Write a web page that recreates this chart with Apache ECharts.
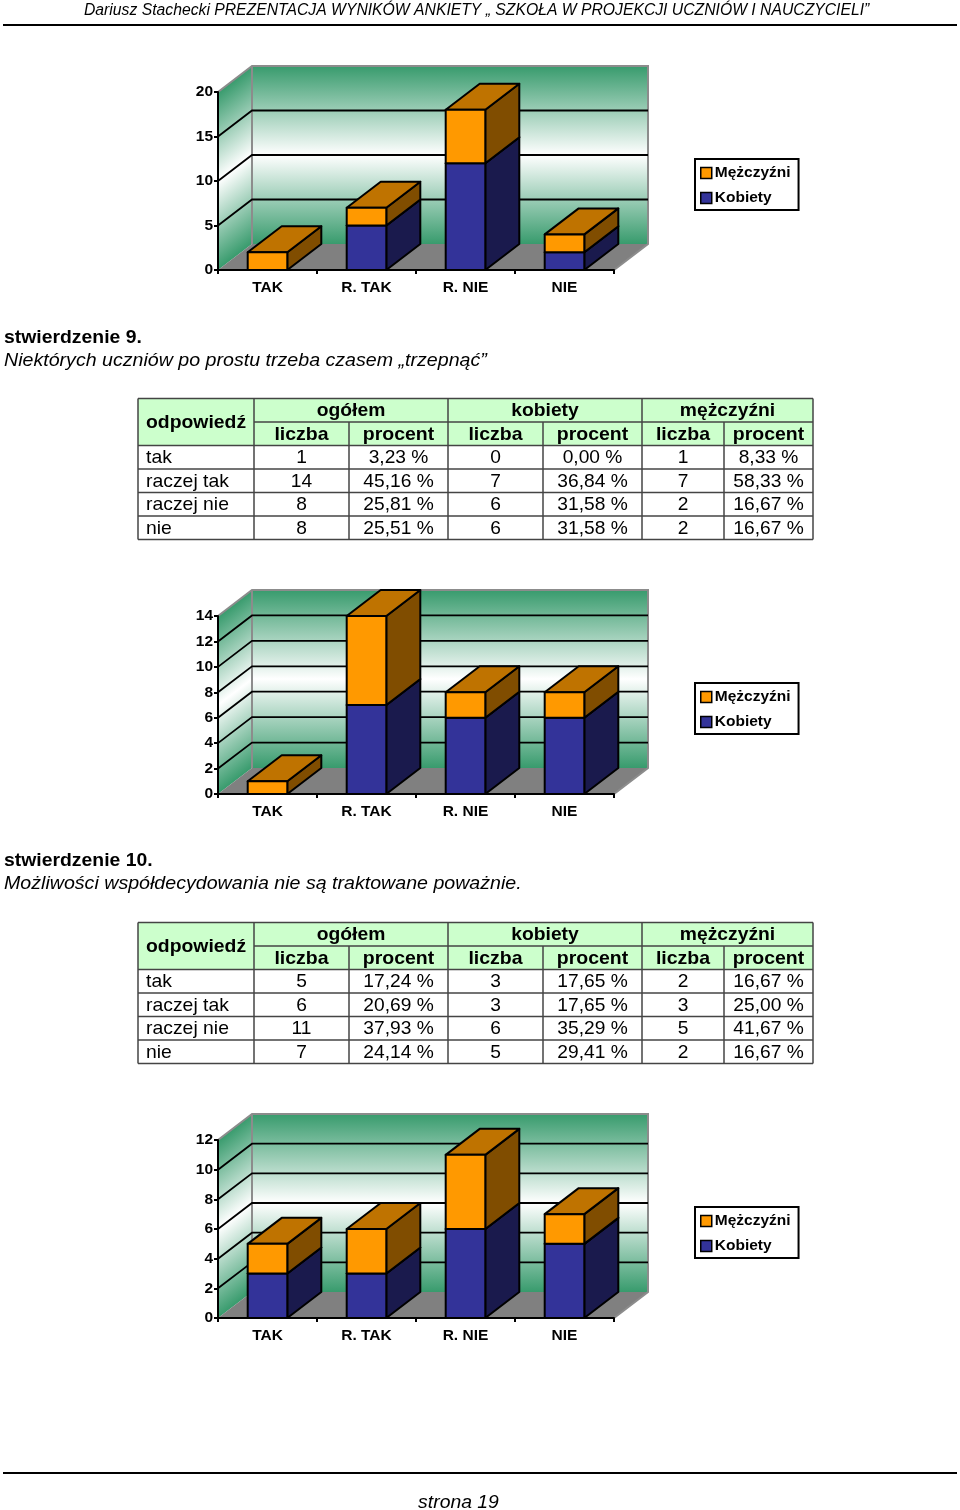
<!DOCTYPE html>
<html><head><meta charset="utf-8">
<style>html,body{margin:0;padding:0;background:#fff}#c{width:960px;height:1510px}</style>
<script src="https://cdn.jsdelivr.net/npm/echarts@6/dist/echarts.min.js"></script>
</head><body><div id="c"></div>
<script>
const categories = ['TAK','R. TAK','R. NIE','NIE'];
const kobiety1 = [0,5,12,2];
const mezczyzni1 = [2,2,6,2];
const kobiety2 = [0,7,6,6];
const mezczyzni2 = [1,7,2,2];
const kobiety3 = [3,3,6,5];
const mezczyzni3 = [2,3,5,2];
const yMaxes = [20,14,12];
const yIntervals = [5,2,2];
const legendNames = ['Mężczyźni','Kobiety'];

const headerText = 'Dariusz Stachecki PREZENTACJA WYNIKÓW ANKIETY „ SZKOŁA W PROJEKCJI UCZNIÓW I NAUCZYCIELI”';
const footerText = 'strona 19';
const title9 = 'stwierdzenie 9.';
const sub9 = 'Niektórych uczniów po prostu trzeba czasem „trzepnąć”';
const title10 = 'stwierdzenie 10.';
const sub10 = 'Możliwości współdecydowania nie są traktowane poważnie.';

const tableGroups = ['ogółem','kobiety','mężczyźni'];
const tableSub = ['liczba','procent','liczba','procent','liczba','procent'];
const rowNames = ['tak','raczej tak','raczej nie','nie'];
const table9 = [
 ['1','3,23 %','0','0,00 %','1','8,33 %'],
 ['14','45,16 %','7','36,84 %','7','58,33 %'],
 ['8','25,81 %','6','31,58 %','2','16,67 %'],
 ['8','25,51 %','6','31,58 %','2','16,67 %']];
const table10 = [
 ['5','17,24 %','3','17,65 %','2','16,67 %'],
 ['6','20,69 %','3','17,65 %','3','25,00 %'],
 ['11','37,93 %','6','35,29 %','5','41,67 %'],
 ['7','24,14 %','5','29,41 %','2','16,67 %']];

const FONT = '"Liberation Sans", Arial, sans-serif';
const DX = 34, DY = 26;
const GRID_TOPS = [92, 616, 1140];
const GRID_H = 178;
const GRID_L = 218, GRID_W = 396;
const WALL_GREEN = '#389b6d';
const C = {
  k:{front:'#333399',side:'#1a1a4d',top:'#28287a'},
  m:{front:'#ff9900',side:'#804d00',top:'#bf7300'}
};
const g = echarts.graphic;

function stops(){return [{offset:0,color:WALL_GREEN},{offset:0.5,color:'#ffffff'},{offset:1,color:WALL_GREEN}];}

function wallsRender(ymax, interval){
  return function(params, api){
    const o = api.coord([0,0]);
    const tl = api.coord([0,ymax]);
    const w = api.size([1,0])[0]*categories.length;
    const x0 = o[0]-api.size([1,0])[0]/2, y0 = o[1], yt = tl[1];
    const x1 = x0+w;
    const kids = [];
    const h = y0-yt;
    const len = Math.hypot(DX,DY);
    const nx = DY/len, ny = DX/len, proj = h*DX/len;
    kids.push({type:'polygon',shape:{points:[[x0,y0],[x0+DX,y0-DY],[x0+DX,yt-DY],[x0,yt]]},
      style:{fill:new g.LinearGradient(x0,yt,x0+nx*proj,yt+ny*proj,stops(),true),stroke:null}});
    kids.push({type:'rect',shape:{x:x0+DX,y:yt-DY,width:w,height:h},
      style:{fill:new g.LinearGradient(0,yt-DY,0,y0-DY,stops(),true),stroke:null}});
    kids.push({type:'polygon',shape:{points:[[x0,y0],[x1,y0],[x1+DX,y0-DY],[x0+DX,y0-DY]]},
      style:{fill:'#808080',stroke:null}});
    kids.push({type:'polyline',shape:{points:[[x0,yt],[x0+DX,yt-DY],[x1+DX,yt-DY],[x1+DX,y0-DY],[x1,y0]]},
      style:{fill:null,stroke:'#8c8c8c',lineWidth:2}});
    kids.push({type:'line',shape:{x1:x0+DX,y1:yt-DY,x2:x0+DX,y2:y0-DY},
      style:{stroke:'#8c8c8c',lineWidth:2}});
    for(let v=interval;v<ymax;v+=interval){
      const y = api.coord([0,v])[1];
      kids.push({type:'polyline',shape:{points:[[x0,y],[x0+DX,y-DY],[x1+DX,y-DY]]},
        style:{fill:null,stroke:'#000',lineWidth:1.8}});
    }
    return {type:'group',children:kids};
  };
}
function barRender(col){
  return function(params, api){
    const i = api.value(0), a = api.value(1), b = api.value(2);
    if(b<=a) return null;
    const bw = api.size([1,0])[0]*0.4;
    const c = api.coord([i,a]), d = api.coord([i,b]);
    const l = c[0]-bw/2, r = c[0]+bw/2, y0 = c[1], y1 = d[1];
    const st = f=>({fill:f,stroke:'#000',lineWidth:2,lineJoin:'round'});
    return {type:'group',children:[
      {type:'polygon',shape:{points:[[r,y0],[r+DX,y0-DY],[r+DX,y1-DY],[r,y1]]},style:st(col.side)},
      {type:'polygon',shape:{points:[[l,y1],[r,y1],[r+DX,y1-DY],[l+DX,y1-DY]]},style:st(col.top)},
      {type:'rect',shape:{x:l,y:y1,width:bw,height:y0-y1},style:st(col.front)}
    ]};
  };
}

const grid=[],xAxis=[],yAxis=[],series=[],legend=[];
const K=[kobiety1,kobiety2,kobiety3], M=[mezczyzni1,mezczyzni2,mezczyzni3];
GRID_TOPS.forEach((top,n)=>{
  grid.push({left:GRID_L,top,width:GRID_W,height:GRID_H});
  xAxis.push({type:'category',gridIndex:n,data:categories,z:10,
    axisLine:{lineStyle:{color:'#000',width:2}},
    axisTick:{show:true,alignWithLabel:false,length:4,lineStyle:{color:'#000',width:2}},
    axisLabel:{color:'#000',fontFamily:FONT,fontWeight:'bold',fontSize:15.5,margin:10,interval:0}});
  yAxis.push({type:'value',gridIndex:n,min:0,max:yMaxes[n],interval:yIntervals[n],z:10,
    splitLine:{show:false},
    axisLine:{show:true,lineStyle:{color:'#000',width:2}},
    axisTick:{show:true,length:4,lineStyle:{color:'#000',width:2}},
    axisLabel:{color:'#000',fontFamily:FONT,fontWeight:'bold',fontSize:15.5,margin:5,padding:[4,0,0,0]}});
  series.push({type:'custom',name:'tlo'+n,xAxisIndex:n,yAxisIndex:n,silent:true,z:1,
    coordinateSystem:'cartesian2d',data:[[0,0]],encode:{x:0,y:1},
    renderItem:wallsRender(yMaxes[n],yIntervals[n])});
  series.push({type:'custom',name:legendNames[1],xAxisIndex:n,yAxisIndex:n,z:2,silent:true,
    itemStyle:{color:C.k.front},encode:{x:0,y:[1,2]},
    data:K[n].map((v,i)=>[i,0,v]),renderItem:barRender(C.k)});
  series.push({type:'custom',name:legendNames[0],xAxisIndex:n,yAxisIndex:n,z:3,silent:true,
    itemStyle:{color:C.m.front},encode:{x:0,y:[1,2]},
    data:M[n].map((v,i)=>[i,K[n][i],K[n][i]+v]),renderItem:barRender(C.m)});
  legend.push({orient:'vertical',left:695,top:top+67,padding:[6,8,4,5],
    itemWidth:11,itemHeight:11,itemGap:9,itemSymbolKeepAspect:true,selectedMode:false,
    backgroundColor:'#fff',borderColor:'#000',borderWidth:2,
    textStyle:{fontFamily:FONT,fontWeight:'bold',fontSize:15.5,color:'#000',padding:[0,0,0,-2]},
    data:[{name:legendNames[0],icon:'rect',itemStyle:{color:C.m.front,borderColor:'#000',borderWidth:1.5}},
          {name:legendNames[1],icon:'rect',itemStyle:{color:C.k.front,borderColor:'#000',borderWidth:1.5}}]});
});

const gfx=[];
function T(text,x,y,opt){opt=opt||{};
  gfx.push({type:'text',x,y:y+1.5,scaleX:opt.sx||1,silent:true,z:20,
    style:{text,fill:'#000',align:opt.align||'left',verticalAlign:'middle',
      font:(opt.style||'')+' '+(opt.weight||'')+' '+(opt.size||19)+'px '+FONT}});
}
function L(x1,y1,x2,y2,color,w){
  gfx.push({type:'line',silent:true,z:15,shape:{x1,y1,x2,y2},style:{stroke:color,lineWidth:w}});
}
const TABLE_X=[138,254,349,448,543,642,724,813];
const ROW_Y=[0,23.5,47,70.5,94,117.5,141];
const GROUP_X=[[254,448],[448,642],[642,813]];
function table(rows,top){
  gfx.push({type:'rect',silent:true,z:14,shape:{x:138,y:top,width:675,height:47},style:{fill:'#ccffcc'}});
  const line='#444';
  ROW_Y.forEach((d,i)=>{ L(i===1?254:138,top+d,813,top+d,line,1.5); });
  [0,3,5,7].forEach(c=>L(TABLE_X[c],top,TABLE_X[c],top+141,line,1.5));
  L(254,top,254,top+141,line,1.5);
  [2,4,6].forEach(c=>L(TABLE_X[c],top+23.5,TABLE_X[c],top+141,line,1.5));
  T('odpowiedź',146,top+23,{weight:'bold',sx:1.02});
  tableGroups.forEach((t,i)=>T(t,(GROUP_X[i][0]+GROUP_X[i][1])/2,top+11,{weight:'bold',align:'center',sx:1.015}));
  tableSub.forEach((t,i)=>T(t,(TABLE_X[i+1]+TABLE_X[i+2])/2,top+34.5,{weight:'bold',align:'center',sx:1.025}));
  rows.forEach((r,ri)=>{
    const y=top+47+23.5*ri+11;
    T(rowNames[ri],146,y,{sx:1.02});
    r.forEach((t,ci)=>T(t,(TABLE_X[ci+1]+TABLE_X[ci+2])/2,y,{align:'center',sx:1.01}));
  });
}
T(headerText,84,9,{style:'italic',size:16,sx:0.983});
L(3,25,957,25,'#000',2);
L(3,1473,957,1473,'#000',2);
T(footerText,458.5,1501,{style:'italic',align:'center',sx:1.02});
T(title9,4,336,{weight:'bold',sx:1.02});
T(sub9,4,359,{style:'italic',sx:1.032});
T(title10,4,859,{weight:'bold',sx:1.02});
T(sub10,4,882,{style:'italic',sx:1.032});
table(table9,398.5);
table(table10,922.5);

const chart=echarts.init(document.getElementById('c'));
chart.setOption({animation:false,backgroundColor:'#fff',tooltip:{show:false},
  grid,xAxis,yAxis,series,legend,graphic:{elements:gfx}});
</script></body></html>
